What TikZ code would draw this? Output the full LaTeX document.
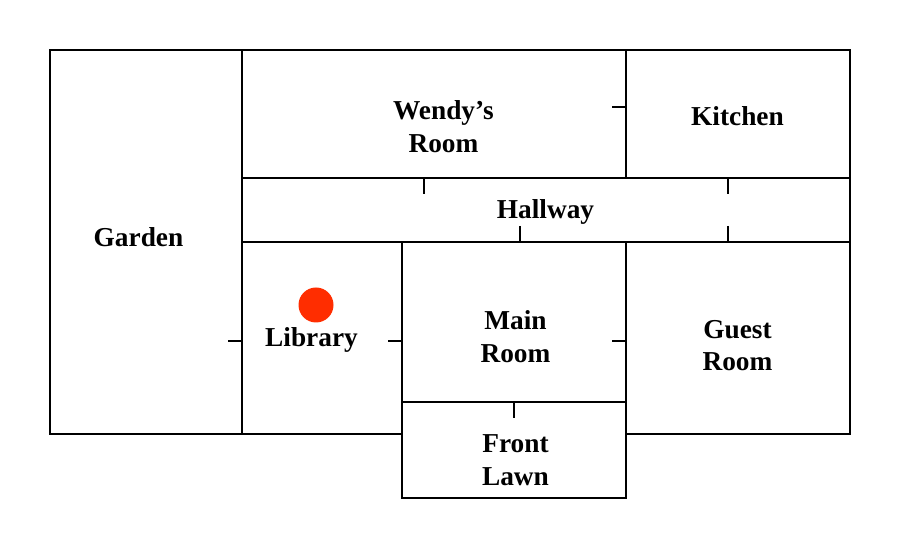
\documentclass[tikz,border=0pt]{standalone}
\usepackage{fontspec}
\setmainfont{Liberation Serif}
\usepackage{xcolor}
\definecolor{markerred}{RGB}{255, 45, 0}
\tikzset{
  wall/.style={black, line width=1.6pt},
  door/.style={black, line width=2.2pt},
  roomlabel/.style={font=\fontsize{20.5}{24.6}\selectfont\bfseries, align=center, inner sep=0pt},
}
\begin{document}
\begin{tikzpicture}[x=0.75pt, y=-0.75pt]
  \useasboundingbox (0,0) rectangle (900,548);
  %--- walls -----------------------------------------------------------------
  \draw[wall] (402,434) -- (50,434) -- (50,50) -- (850,50) -- (850,434) -- (626,434);
  \draw[wall] (242,50) -- (242,434);
  \draw[wall] (626,50) -- (626,178);
  \draw[wall] (242,178) -- (850,178);
  \draw[wall] (242,242) -- (850,242);
  \draw[wall] (402,242) -- (402,498) -- (626,498) -- (626,242);
  \draw[wall] (402,402) -- (626,402);
  %--- doors -----------------------------------------------------------------
  \foreach \x/\y in {612/107, 228/341, 388/341, 612/341}
    \draw[door] (\x,\y) -- ++(14,0);
  \foreach \x/\y in {424/178, 728/178, 514/402}
    \draw[door] (\x,\y) -- ++(0,16);
  \foreach \x/\y in {520/226, 728/226}
    \draw[door] (\x,\y) -- ++(0,16);
  %--- rooms -----------------------------------------------------------------
  \node[roomlabel] (garden) at (138.5,237) {Garden};
  \node[roomlabel] (wendy) at (443.5,126.5) {Wendy’s\\Room};
  \node[roomlabel] (kitchen) at (737.5,116) {Kitchen};
  \node[roomlabel] (hallway) at (545.5,212) {Hallway};
  \node[roomlabel] (library) at (311.5,340) {Library};
  \node[roomlabel] (mainroom) at (515.5,337) {Main\\Room};
  \node[roomlabel] (guestroom) at (737.5,345.5) {Guest\\Room};
  \node[roomlabel] (frontlawn) at (515.5,460) {Front\\Lawn};
  % marker
  \fill[markerred] (316,305) circle (17.5);
\end{tikzpicture}
\end{document}
